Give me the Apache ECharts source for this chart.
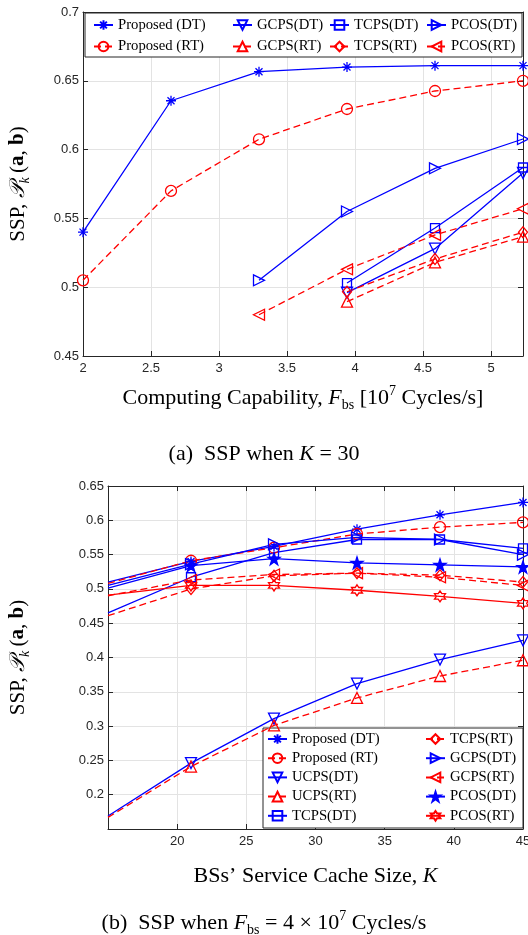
<!DOCTYPE html>
<html lang="en">
<head>
<meta charset="UTF-8">
<title>SSP</title>
<script src="https://cdn.jsdelivr.net/npm/echarts@6/dist/echarts.min.js"></script>
<style>html,body{margin:0;padding:0;background:#fff;}</style>
</head>
<body>
<div id="main" style="width:528px;height:935px;"></div>
<script type="text/javascript">
    var myChart = echarts.init(document.getElementById('main'));

    // (a) SSP vs computing capability F_bs [10^7 cycles/s], K = 30
    const fbs = [2, 2.647, 3.294, 3.941, 4.588, 5.235];
    const aPropDT = [0.540, 0.6355, 0.6566, 0.660, 0.661, 0.661];
    const aPropRT = [0.505, 0.570, 0.6075, 0.6295, 0.6426, 0.650];
    const aGcpsDT = [null, null, null, 0.496, 0.528, 0.583];
    const aGcpsRT = [null, null, null, 0.4895, 0.518, 0.5367];
    const aTcpsDT = [null, null, null, 0.503, 0.543, 0.587];
    const aTcpsRT = [null, null, null, 0.4967, 0.5205, 0.540];
    const aPcosDT = [null, null, 0.505, 0.555, 0.5864, 0.6077];
    const aPcosRT = [null, null, 0.480, 0.513, 0.538, 0.557];

    // (b) SSP vs BS service cache size K, F_bs = 4e7
    const cacheK = [15, 21, 27, 33, 39, 45];
    const bPropDT = [0.510, 0.540, 0.562, 0.587, 0.608, 0.626];
    const bPropRT = [0.508, 0.541, 0.560, 0.580, 0.590, 0.597];
    const bUcpsDT = [0.169, 0.246, 0.311, 0.362, 0.397, 0.425];
    const bUcpsRT = [0.167, 0.241, 0.301, 0.341, 0.373, 0.396];
    const bTcpsDT = [0.465, 0.517, 0.553, 0.572, 0.572, 0.559];
    const bTcpsRT = [0.461, 0.500, 0.519, 0.523, 0.520, 0.510];
    const bGcpsDT = [0.505, 0.536, 0.565, 0.575, 0.572, 0.550];
    const bGcpsRT = [0.490, 0.513, 0.521, 0.523, 0.517, 0.505];
    const bPcosDT = [0.501, 0.534, 0.544, 0.538, 0.535, 0.532];
    const bPcosRT = [0.491, 0.505, 0.505, 0.498, 0.489, 0.479];

    const BLUE = '#0000ff', RED = '#ff0000';
    const serif = 'Liberation Serif', sans = 'Liberation Sans';
    const axisColor = '#262626';

    // matlab-like markers
    const SYM = {
        ast: 'path://M0,5L10,5M5,0L5,10M1.5,1.5L8.5,8.5M8.5,1.5L1.5,8.5',
        circ: 'circle',
        sq: 'rect',
        dia: 'path://M5,0L10,6.5L5,13L0,6.5Z',
        up: 'path://M5,0L10,9L0,9Z',
        down: 'path://M0,0L10,0L5,9Z',
        right: 'path://M0,0L9,5L0,10Z',
        left: 'path://M9,0L0,5L9,10Z',
        star: 'path://M10,0L12.25,6.91L19.51,6.91L13.63,11.18L15.88,18.09L10,13.82L4.12,18.09L6.37,11.18L0.49,6.91L7.75,6.91Z',
        hex: 'path://M10,0L12.89,5L18.66,5L15.77,10L18.66,15L12.89,15L10,20L7.11,15L1.34,15L4.23,10L1.34,5L7.11,5Z'
    };

    let mk = (name, xs, ys, color, dashed, sym, size, idx, opt) => {
        opt = opt || {};
        let data = [];
        xs.forEach((x, i) => {
            if (ys[i] != null) data.push({ value: [x, ys[i]] });
        });
        if (opt.hideFirst) data[0].symbol = 'none';
        return {
            name: name,
            type: 'line',
            xAxisIndex: idx,
            yAxisIndex: idx,
            data: data,
            symbol: sym,
            symbolSize: size,
            showAllSymbol: true,
            clip: false,
            lineStyle: { color: color, width: 1.3, type: dashed ? [7, 4] : 'solid' },
            itemStyle: { color: opt.filled ? color : 'none', borderColor: color, borderWidth: 1.3 },
            emphasis: { disabled: true },
            animation: false
        };
    };

    // rich text styles (italic, subscript, superscript, bold) for a given base size
    let richOf = (fs) => {
        let s = Math.round(fs * 0.65);
        return {
            i: { fontFamily: serif, fontStyle: 'italic', fontSize: fs, color: '#000' },
            cal: { fontFamily: serif, fontStyle: 'italic', fontSize: fs, color: '#000' },
            sub: { fontFamily: serif, fontSize: s, lineHeight: 12, verticalAlign: 'bottom', color: '#000' },
            subi: { fontFamily: serif, fontStyle: 'italic', fontSize: s, lineHeight: 12, verticalAlign: 'bottom', color: '#000' },
            sup: { fontFamily: serif, fontSize: s, lineHeight: 12, verticalAlign: 'top', color: '#000' },
            b: { fontFamily: serif, fontWeight: 'bold', fontSize: fs, color: '#000' }
        };
    };
    let txt = (fs) => ({ fontFamily: serif, fontSize: fs, fontWeight: 'normal', color: '#000', lineHeight: 28, rich: richOf(fs) });
    const yName = 'SSP, {cal|𝒫}{subi|k}\u2009({b|a}, {b|b})';

    let mainX = (gi, min, max, name, gap, lab) => ({
        type: 'value', gridIndex: gi, min: min, max: max, interval: gi === 0 ? 0.5 : 5,
        axisLine: { onZero: false, lineStyle: { color: axisColor, width: 1 } },
        axisTick: { inside: true, length: 5, lineStyle: { color: axisColor } },
        axisLabel: Object.assign({ color: axisColor, fontFamily: sans, fontSize: 13, margin: 6 }, lab),
        splitLine: { show: true, lineStyle: { color: '#e3e3e3', width: 1 } },
        name: name, nameLocation: 'middle', nameGap: gap, nameTextStyle: txt(22)
    });
    let mainY = (gi, min, max, gap, lab) => ({
        type: 'value', gridIndex: gi, min: min, max: max, interval: 0.05,
        axisLine: { onZero: false, lineStyle: { color: axisColor, width: 1 } },
        axisTick: { inside: true, length: 5, lineStyle: { color: axisColor } },
        axisLabel: Object.assign({ color: axisColor, fontFamily: sans, fontSize: 13, margin: 4 }, lab),
        splitLine: { show: true, lineStyle: { color: '#e3e3e3', width: 1 } },
        name: yName, nameLocation: 'middle', nameRotate: 90, nameGap: gap, nameTextStyle: txt(21)
    });
    // mirrored box axes (top / right)
    let boxX = (gi, min, max, interval) => ({
        type: 'value', gridIndex: gi, min: min, max: max, interval: interval, position: 'top',
        axisLine: { onZero: false, lineStyle: { color: axisColor, width: 1 } },
        axisTick: { inside: true, length: 5, lineStyle: { color: axisColor } },
        axisLabel: { show: false }, splitLine: { show: false }
    });
    let boxY = (gi, min, max) => ({
        type: 'value', gridIndex: gi, min: min, max: max, interval: 0.05, position: 'right',
        axisLine: { onZero: false, lineStyle: { color: axisColor, width: 1 } },
        axisTick: { inside: true, length: 5, lineStyle: { color: axisColor } },
        axisLabel: { show: false }, splitLine: { show: false }
    });

    let legendBase = {
        orient: 'vertical', padding: 0, itemWidth: 19, itemHeight: 12,
        selectedMode: false,
        textStyle: { fontFamily: serif, fontSize: 14.7, color: '#000', lineHeight: 16 },
        formatter: (n) => n.split('#')[0]
    };
    let lg = (names, left, top, gap) => Object.assign({}, legendBase, { data: names, left: left, top: top, itemGap: gap });

    let option = {
        animation: false,
        backgroundColor: '#fff',
        title: [
            { text: '(a)  SSP when {i|K} = 30', left: 'center', top: 440, padding: 0, textStyle: txt(22) },
            { text: '(b)  SSP when {i|F}{sub|bs} = 4 × 10{sup|7} Cycles/s', left: 'center', top: 909, padding: 0, textStyle: txt(22) }
        ],
        grid: [
            { left: 83, top: 12, width: 440, height: 344, outerBoundsMode: 'none' },
            { left: 108, top: 486, width: 415, height: 343, outerBoundsMode: 'none' }
        ],
        xAxis: [
            mainX(0, 2, 5.235, 'Computing Capability, {i|F}{sub|bs} [10{sup|7} Cycles/s]', 28, { showMaxLabel: false }),
            mainX(1, 15, 45, 'BSs\u2019 Service Cache Size, {i|K}', 33, { showMinLabel: false }),
            boxX(0, 2, 5.235, 0.5),
            boxX(1, 15, 45, 5)
        ],
        yAxis: [
            mainY(0, 0.45, 0.7, 51),
            mainY(1, 0.15, 0.65, 76, { showMinLabel: false }),
            boxY(0, 0.45, 0.7),
            boxY(1, 0.15, 0.65)
        ],
        legend: [
            lg(['Proposed (DT)', 'Proposed (RT)'], 93, 17, 5.5),
            lg(['GCPS(DT)', 'GCPS(RT)'], 232, 17, 5.5),
            lg(['TCPS(DT)', 'TCPS(RT)'], 329, 17, 5.5),
            lg(['PCOS(DT)', 'PCOS(RT)'], 426, 17, 5.5),
            lg(['Proposed (DT)#b', 'Proposed (RT)#b', 'UCPS(DT)#b', 'UCPS(RT)#b', 'TCPS(DT)#b'], 267, 731, 3.2),
            lg(['TCPS(RT)#b', 'GCPS(DT)#b', 'GCPS(RT)#b', 'PCOS(DT)#b', 'PCOS(RT)#b'], 425, 731, 3.2)
        ],
        graphic: [
            { type: 'rect', z: 3, shape: { x: 85, y: 13, width: 437, height: 44 }, style: { fill: '#fff', stroke: axisColor, lineWidth: 1 } },
            { type: 'rect', z: 3, shape: { x: 263, y: 728, width: 260, height: 100 }, style: { fill: '#fff', stroke: axisColor, lineWidth: 1 } }
        ],
        series: [
            mk('Proposed (DT)', fbs, aPropDT, BLUE, false, SYM.ast, 10, 0),
            mk('Proposed (RT)', fbs, aPropRT, RED, true, SYM.circ, 11, 0),
            mk('GCPS(DT)', fbs, aGcpsDT, BLUE, false, SYM.down, 11, 0),
            mk('GCPS(RT)', fbs, aGcpsRT, RED, true, SYM.up, 11, 0),
            mk('TCPS(DT)', fbs, aTcpsDT, BLUE, false, SYM.sq, 9, 0),
            mk('TCPS(RT)', fbs, aTcpsRT, RED, true, SYM.dia, [9, 11], 0),
            mk('PCOS(DT)', fbs, aPcosDT, BLUE, false, SYM.right, 11, 0),
            mk('PCOS(RT)', fbs, aPcosRT, RED, true, SYM.left, 11, 0),

            mk('Proposed (DT)#b', cacheK, bPropDT, BLUE, false, SYM.ast, 10, 1, { hideFirst: true }),
            mk('Proposed (RT)#b', cacheK, bPropRT, RED, true, SYM.circ, 11, 1, { hideFirst: true }),
            mk('UCPS(DT)#b', cacheK, bUcpsDT, BLUE, false, SYM.down, 11, 1, { hideFirst: true }),
            mk('UCPS(RT)#b', cacheK, bUcpsRT, RED, true, SYM.up, 11, 1, { hideFirst: true }),
            mk('TCPS(DT)#b', cacheK, bTcpsDT, BLUE, false, SYM.sq, 9, 1, { hideFirst: true }),
            mk('TCPS(RT)#b', cacheK, bTcpsRT, RED, true, SYM.dia, [9, 11], 1, { hideFirst: true }),
            mk('GCPS(DT)#b', cacheK, bGcpsDT, BLUE, false, SYM.right, 11, 1, { hideFirst: true }),
            mk('GCPS(RT)#b', cacheK, bGcpsRT, RED, true, SYM.left, 11, 1, { hideFirst: true }),
            mk('PCOS(DT)#b', cacheK, bPcosDT, BLUE, false, SYM.star, 12, 1, { hideFirst: true, filled: true }),
            mk('PCOS(RT)#b', cacheK, bPcosRT, RED, false, SYM.hex, 11, 1, { hideFirst: true })
        ]
    };

    myChart.setOption(option);
</script>
</body>
</html>
